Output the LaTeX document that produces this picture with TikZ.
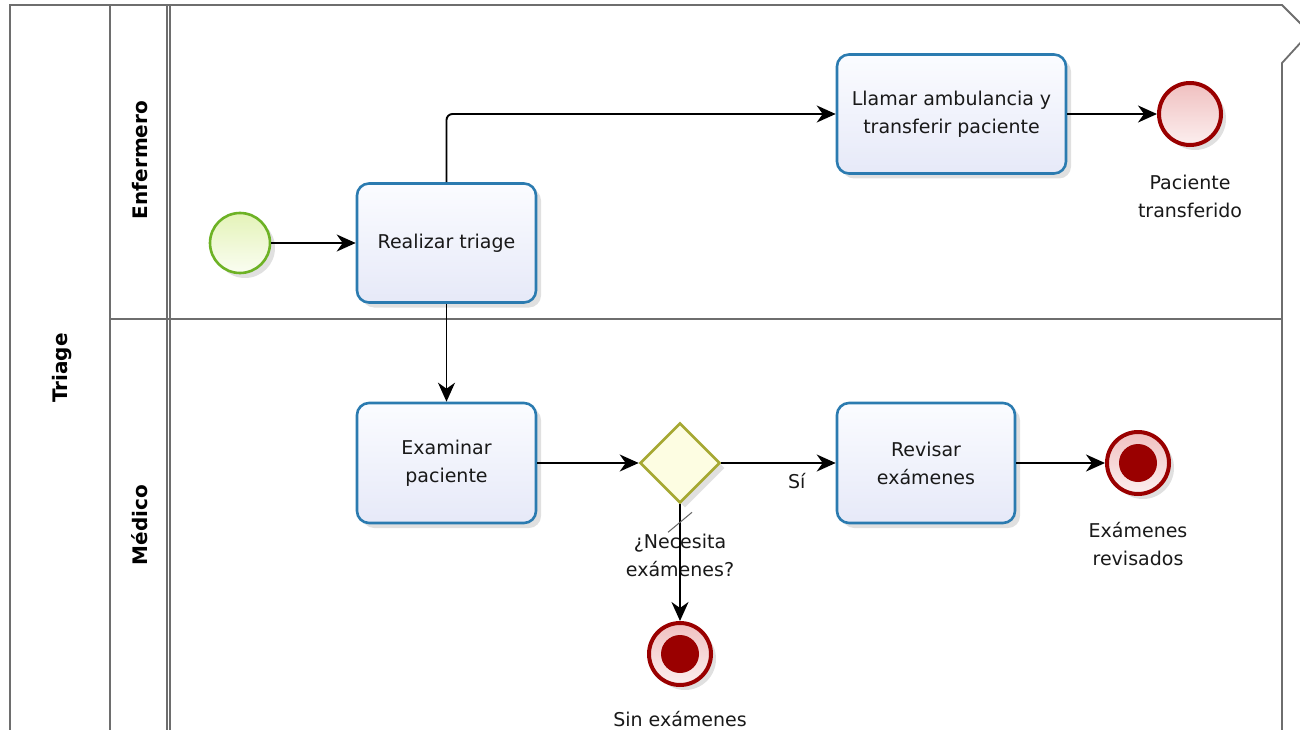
\documentclass[tikz,border=0pt]{standalone}
\usepackage{fontspec}
\setmainfont{DejaVu Sans}
\usetikzlibrary{arrows.meta,shapes.geometric,shadows,calc}
\definecolor{taskblue}{HTML}{2B7BB0}
\definecolor{tasktop}{HTML}{FBFCFF}
\definecolor{taskbot}{HTML}{E6E9F8}
\definecolor{startgreen}{HTML}{6DB225}
\definecolor{starttop}{HTML}{E4F3B8}
\definecolor{startbot}{HTML}{FAFDF2}
\definecolor{endred}{HTML}{9A0000}
\definecolor{endtop}{HTML}{F0C0C0}
\definecolor{endbot}{HTML}{FCEFEF}
\definecolor{gwolive}{HTML}{A6A832}
\definecolor{gwfill}{HTML}{FDFDE2}
\definecolor{lanegray}{HTML}{6E6E6E}
\begin{document}
\begin{tikzpicture}[x=1pt,y=-1pt,
  txt/.style={font=\fontsize{19}{28}\selectfont, align=center, text=black!90},
  lanelbl/.style={font=\fontsize{20}{24}\selectfont\bfseries, rotate=90},
  shad/.style={drop shadow={opacity=0.12, shadow xshift=5pt, shadow yshift=-5pt, fill=black}},
  taskbox/.style={rectangle, rounded corners=12pt, draw=taskblue, line width=2.6pt,
     top color=tasktop, bottom color=taskbot, txt, inner sep=0pt, shad},
  startev/.style={circle, draw=startgreen, line width=2.6pt, top color=starttop,
     bottom color=startbot, minimum size=60pt, inner sep=0pt, shad},
  endev/.style={circle, draw=endred, line width=4pt, top color=endtop,
     bottom color=endbot, minimum size=60pt, inner sep=0pt, shad},
  termev/.style={endev, path picture={\fill[endred] (path picture bounding box.center) circle (19pt);}},
  gwshape/.style={diamond, aspect=1, draw=gwolive, line width=2.6pt, fill=gwfill,
     minimum width=80pt, minimum height=80pt, inner sep=0pt, shad},
  flow/.style={draw=black, line width=1.9pt, -{Stealth[length=19pt,width=17pt,inset=6pt]}},
  border/.style={draw=lanegray, line width=1.8pt}
]
\useasboundingbox (0,0) rectangle (1300,730);
\fill[white] (0,0) rectangle (1300,730);

% pool and lanes
\draw[border, line join=miter] (10,740) -- (10,5) -- (1282,5) -- (1303,26) (1303,40) -- (1282,63) -- (1282,740);
\draw[border] (110,5) -- (110,740);
\draw[border, line width=1.2pt] (167,5) -- (167,740);
\draw[border, line width=1.2pt] (170,5) -- (170,740);
\draw[border] (110,319) -- (1282,319);

\node[lanelbl] (lblpool) at (62,368) {Triage};
\node[lanelbl] (lblenf) at (140,160) {Enfermero};
\node[lanelbl] (lblmed) at (140,525) {Médico};

% nodes
\node[startev] (start) at (240,243) {};
\node[taskbox, minimum width=179pt, minimum height=119pt] (triage) at (446.5,243) {Realizar triage};
\node[taskbox, minimum width=229pt, minimum height=119pt] (llamar) at (951.5,114) {Llamar ambulancia y\\transferir paciente};
\node[endev, minimum size=62pt] (endtrans) at (1190,114) {};
\node[txt] (lbltrans) at (1190,196) {Paciente\\transferido};

\node[taskbox, minimum width=179pt, minimum height=120pt] (examinar) at (446.5,463) {Examinar\\paciente};
\node[gwshape] (gw) at (680,463) {};
\node[txt] (lblgw) at (680,555) {¿Necesita\\exámenes?};
\node[taskbox, minimum width=178pt, minimum height=120pt] (revisar) at (926,463) {Revisar\\exámenes};
\node[termev, minimum size=62pt] (endrev) at (1138,463) {};
\node[txt] (lblrev) at (1138,544) {Exámenes\\revisados};
\node[termev, minimum size=62pt] (endsin) at (680,654) {};
\node[txt] (lblsin) at (680,719) {Sin exámenes};

% flows
\draw[flow] (start) -- (triage);
\draw[flow, rounded corners=6pt] (triage.north) |- (llamar.west);
\draw[flow] (llamar) -- (endtrans);
\draw[flow] (triage) -- (examinar);
\draw[flow] (examinar) -- (gw.west);
\draw[flow] (gw.east) -- node[txt, pos=0.66, below=6pt] {Sí} (revisar.west);
\draw[flow] (revisar) -- (endrev);
\draw[flow] (gw.south) -- (endsin);
\draw[line width=1pt, draw=black!60] ([shift={(-12,28)}]gw.south) -- ++(24,-20);
\end{tikzpicture}
\end{document}
